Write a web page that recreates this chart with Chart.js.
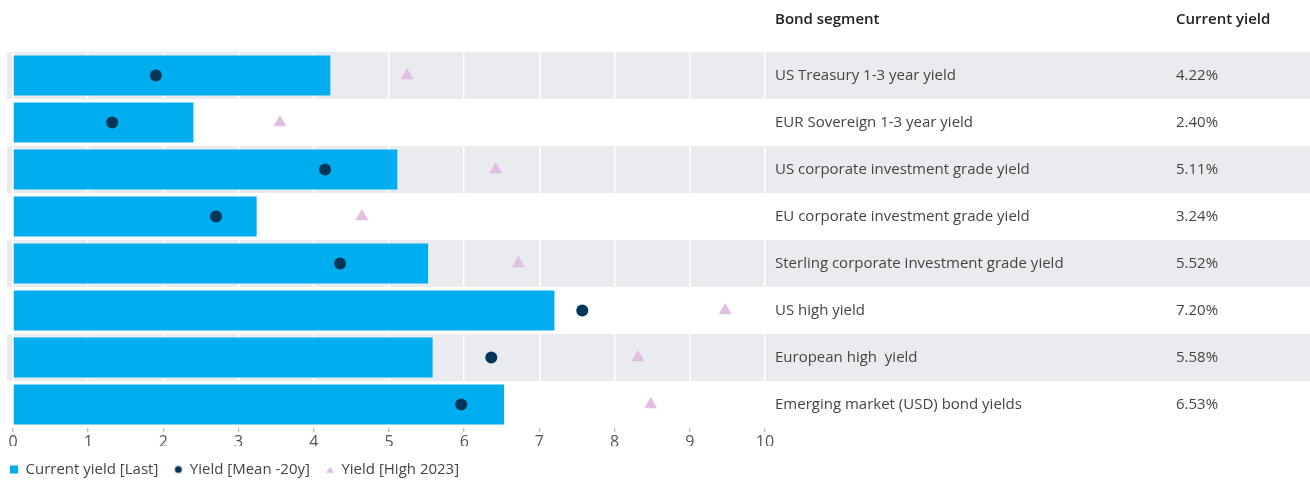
<!DOCTYPE html>
<html>
<head>
<meta charset="utf-8">
<script src="https://cdn.jsdelivr.net/npm/chart.js@4.4.1/dist/chart.umd.min.js"></script>
<style>
  html, body { margin: 0; padding: 0; background: #fff; }
  #wrap { width: 1310px; height: 481px; position: relative; }
</style>
</head>
<body>
<div id="wrap"><canvas id="c"></canvas></div>
<script>
// bond segments and yields (%)
var segments = [
  'US Treasury 1-3 year yield',
  'EUR Sovereign 1-3 year yield',
  'US corporate investment grade yield',
  'EU corporate investment grade yield',
  'Sterling corporate investment grade yield',
  'US high yield',
  'European high  yield',
  'Emerging market (USD) bond yields'
];
var currentYield = [4.22, 2.40, 5.11, 3.24, 5.52, 7.20, 5.58, 6.53];
var meanYield20y = [1.90, 1.32, 4.15, 2.70, 4.35, 7.57, 6.36, 5.96];
var highYield2023 = [5.24, 3.55, 6.42, 4.64, 6.72, 9.47, 8.31, 8.48];
var xTicks = [0, 1, 2, 3, 4, 5, 6, 7, 8, 9, 10];

var FONT = '"Open Sans", "Noto Sans", sans-serif';
var BLUE = '#00aeef';
var NAVY = '#003658';
var PINK = '#e2bfe2';
var BAND = '#e9ebee';

// little canvases used as legend markers
function marker(kind, color) {
    var c = document.createElement('canvas');
    c.width = 10; c.height = 10;
    var g = c.getContext('2d');
    g.fillStyle = color;
    if (kind == 'rect') {
        g.fillRect(1, 1, 8, 8);
    } else if (kind == 'circle') {
        g.beginPath(); g.arc(5, 5, 3.5, 0, Math.PI * 2); g.fill();
    } else {
        g.beginPath(); g.moveTo(5, 2); g.lineTo(9, 8.5); g.lineTo(1, 8.5); g.closePath(); g.fill();
    }
    return c;
}
var legendMarks = { 2: marker('rect', BLUE), 0: marker('circle', NAVY), 1: marker('tri', PINK) };

// grey bands + the table on the right
var tablePlugin = {
    id: 'tablePlugin',
    afterInit: function (chart) {
        // pin the legend height so the plot area ends where the reference does
        var fit = chart.legend.fit;
        chart.legend.fit = function () {
            fit.apply(this, arguments);
            this.height = 35;
        };
    },
    beforeDraw: function (chart) {
        var ctx = chart.ctx;
        var y = chart.scales.y;
        var half = (y.getPixelForValue(1) - y.getPixelForValue(0)) / 2;
        ctx.save();
        ctx.fillStyle = BAND;
        for (var i = 0; i < segments.length; i += 2) {
            var cy = y.getPixelForValue(i);
            ctx.fillRect(7, cy - half, chart.width - 7, half * 2);
        }
        ctx.restore();
    },
    afterDraw: function (chart) {
        var ctx = chart.ctx;
        var y = chart.scales.y;
        var x0 = chart.chartArea.right + 10;
        var x1 = 1176;
        ctx.save();
        ctx.textBaseline = 'middle';
        ctx.font = '600 15px ' + FONT;
        ctx.fillStyle = '#222';
        ctx.fillText('Bond segment', x0, 20);
        ctx.fillText('Current yield', x1, 20);
        ctx.font = '15px ' + FONT;
        ctx.fillStyle = '#444';
        for (var i = 0; i < segments.length; i++) {
            var cy = y.getPixelForValue(i);
            ctx.fillText(segments[i], x0, cy);
            ctx.fillText(currentYield[i].toFixed(2) + '%', x1, cy);
        }
        ctx.restore();
    }
};

var chart = new Chart(document.getElementById('c'), {
    type: 'bar',
    data: {
        labels: segments,
        datasets: [{
            type: 'line',
            label: 'Yield [Mean -20y]',
            data: meanYield20y,
            showLine: false,
            pointStyle: 'circle',
            pointRadius: 6,
            pointHoverRadius: 6,
            pointBackgroundColor: NAVY,
            pointBorderWidth: 0,
            borderColor: NAVY,
            backgroundColor: NAVY,
            order: 1
        }, {
            type: 'line',
            label: 'Yield [High 2023]',
            data: highYield2023,
            showLine: false,
            pointStyle: 'triangle',
            pointRadius: 7.5,
            pointHoverRadius: 7.5,
            pointBackgroundColor: PINK,
            pointBorderWidth: 0,
            borderColor: PINK,
            backgroundColor: PINK,
            order: 2
        }, {
            label: 'Current yield [Last]',
            data: currentYield,
            backgroundColor: BLUE,
            borderWidth: 0,
            barPercentage: 0.85,
            categoryPercentage: 1,
            order: 3
        }]
    },
    options: {
        indexAxis: 'y',
        responsive: true,
        maintainAspectRatio: false,
        animation: false,
        layout: {
            padding: { left: -6, right: 545, top: 52, bottom: 0 }
        },
        scales: {
            x: {
                min: 0,
                max: 10,
                afterBuildTicks: function (s) {
                    s.ticks = xTicks.map(function (v) { return { value: v }; });
                },
                border: { display: false },
                grid: {
                    color: '#ffffff',
                    lineWidth: 1.5,
                    tickColor: '#aaa',
                    tickWidth: 1,
                    tickLength: 4,
                    drawTicks: true
                },
                ticks: {
                    padding: 1,
                    color: '#555',
                    font: { family: FONT, size: 16 }
                },
                afterFit: function (s) { s.height = 18; }
            },
            y: {
                display: true,
                offset: true,
                border: { display: false },
                grid: { display: false },
                ticks: { display: false },
                afterFit: function (s) { s.width = 19; }
            }
        },
        plugins: {
            legend: {
                position: 'bottom',
                align: 'start',
                labels: {
                    usePointStyle: true,
                    boxWidth: 8,
                    boxHeight: 10,
                    padding: 16,
                    color: '#444',
                    font: { family: FONT, size: 15 },
                    generateLabels: function (chart) {
                        return [2, 0, 1].map(function (i) {
                            return {
                                text: chart.data.datasets[i].label,
                                datasetIndex: i,
                                pointStyle: legendMarks[i],
                                fontColor: '#444',
                                hidden: false,
                                lineWidth: 0
                            };
                        });
                    }
                }
            },
            tooltip: { enabled: false }
        }
    },
    plugins: [tablePlugin]
});
</script>
</body>
</html>
